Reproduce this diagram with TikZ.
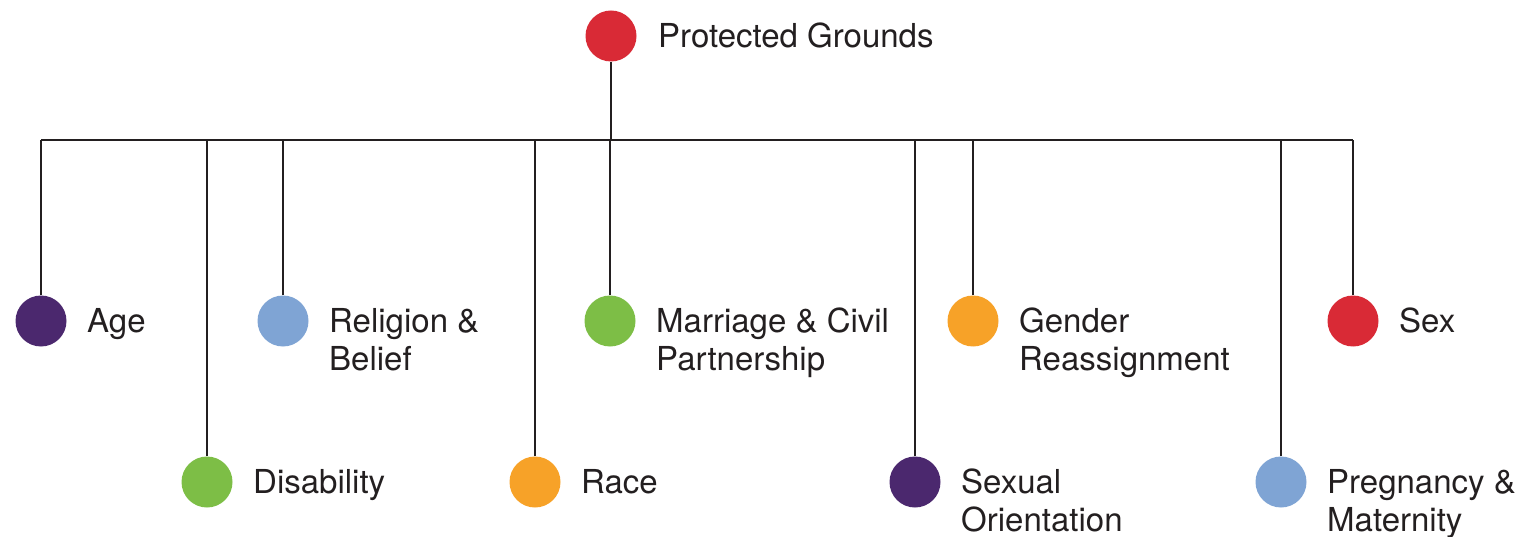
\documentclass[tikz,border=0pt]{standalone}
\usepackage{fontspec}
\setmainfont{TeX Gyre Heros}
\usepackage{tikz}

\definecolor{pgred}{RGB}{217,42,54}
\definecolor{pgpurple}{RGB}{75,40,110}
\definecolor{pgblue}{RGB}{127,164,212}
\definecolor{pggreen}{RGB}{125,190,70}
\definecolor{pgorange}{RGB}{247,162,40}
\definecolor{pgtext}{RGB}{35,31,32}

\begin{document}
\begin{tikzpicture}[x=1pt,y=-1pt] \tikzset{% styles for the dots, labels and lines
        dot/.style={circle,minimum size=51pt,inner sep=0pt,draw=none},
        txt/.style={anchor=base west,inner sep=0pt,align=left,text=pgtext,
                font=\fontsize{33}{38}\selectfont},
        c1/.style={-,draw=pgtext,line width=2.8pt},
        }
        \useasboundingbox (0,0) rectangle (1522,537);
        % Nodes
        \node[dot,fill=pgred] (pg) at (611,36) {}; \node[dot,fill=pgpurple] (age) at (41,321) {};
        \node[dot,fill=pggreen] (dis) at (207,482) {}; \node[dot,fill=pgblue] (rel) at (283,321) {};
        \node[dot,fill=pgorange] (race) at (535,482) {}; \node[dot,fill=pggreen] (mar) at (610,321) {};
        \node[dot,fill=pgpurple] (sexor) at (915,482) {}; \node[dot,fill=pgorange] (gen) at (973,321) {};
        \node[dot,fill=pgblue] (preg) at (1281,482) {}; \node[dot,fill=pgred] (sex) at (1353,321) {};
        % Labels (two-line labels sit on the baseline of their second line)
        \node[txt] (pg-t) at ([shift={(47,11.5)}]pg) {Protected Grounds};
        \node[txt] (age-t) at ([shift={(46,11.5)}]age) {Age};
        \node[txt] (dis-t) at ([shift={(46,11.5)}]dis) {Disability};
        \node[txt] (rel-t) at ([shift={(46,49.5)}]rel) {Religion \&\\Belief};
        \node[txt] (race-t) at ([shift={(46,11.5)}]race) {Race};
        \node[txt] (mar-t) at ([shift={(46,49.5)}]mar) {Marriage \& Civil\\Partnership};
        \node[txt] (sexor-t) at ([shift={(46,49.5)}]sexor) {Sexual\\Orientation};
        \node[txt] (gen-t) at ([shift={(46,49.5)}]gen) {Gender\\Reassignment};
        \node[txt] (preg-t) at ([shift={(46,49.5)}]preg) {Pregnancy \&\\Maternity};
        \node[txt] (sex-t) at ([shift={(46,11.5)}]sex) {Sex};
        %Edges
        \coordinate (bl) at (41,140); \coordinate (br) at (1353,140);
        \draw[c1] (bl) -- (br); \draw[c1] (pg) -- (pg |- bl);
        \draw[c1] (age) -- (age |- bl); \draw[c1] (dis) -- (dis |- bl); \draw[c1] (rel) -- (rel |- bl);
        \draw[c1] (race) -- (race |- bl); \draw[c1] (mar) -- (mar |- bl); \draw[c1] (sexor) -- (sexor |- bl);
        \draw[c1] (gen) -- (gen |- bl); \draw[c1] (preg) -- (preg |- bl); \draw[c1] (sex) -- (sex |- bl);
\end{tikzpicture}
\end{document}
